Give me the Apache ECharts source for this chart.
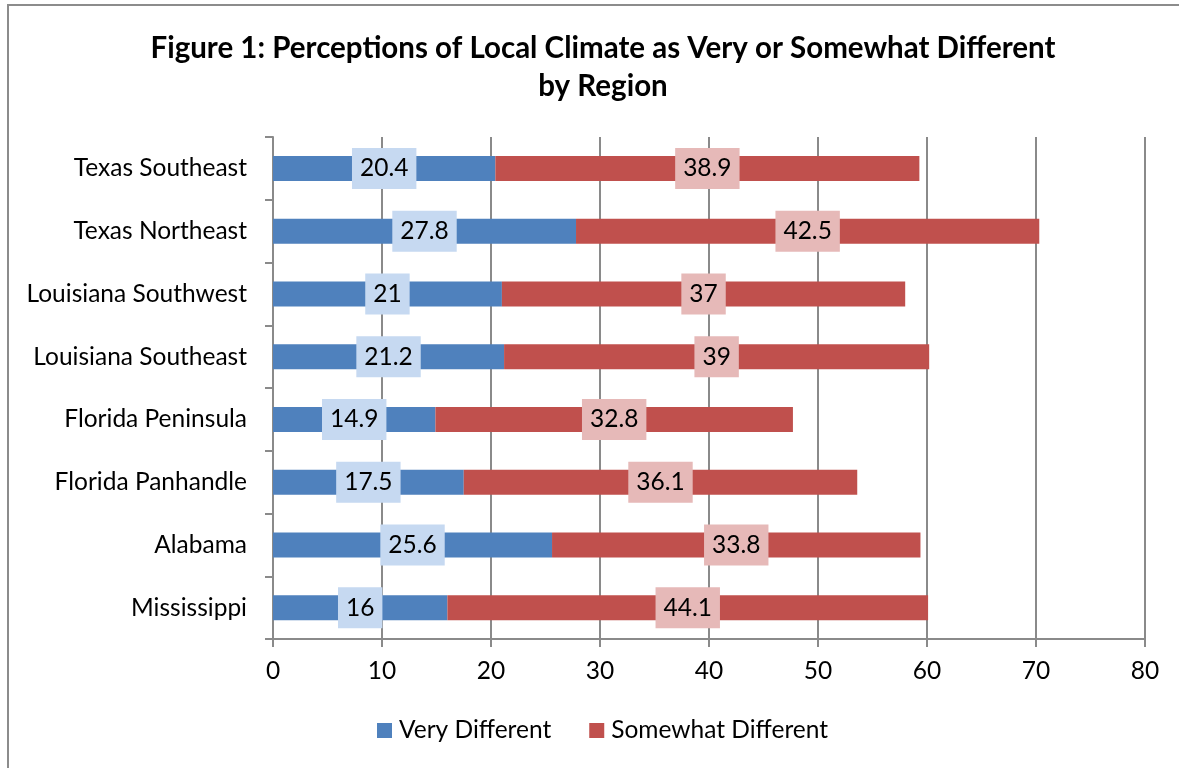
<!DOCTYPE html>
<html><head><meta charset="utf-8">
<script src="https://cdn.jsdelivr.net/npm/echarts@6/dist/echarts.min.js"></script>
<style>html,body{margin:0;padding:0;background:#fff;}#c{width:1179px;height:768px;}</style>
</head><body><div id="c"></div>
<script>
const categories = ["Texas Southeast","Texas Northeast","Louisiana Southwest","Louisiana Southeast","Florida Peninsula","Florida Panhandle","Alabama","Mississippi"];
const veryDifferent = [20.4, 27.8, 21, 21.2, 14.9, 17.5, 25.6, 16];
const somewhatDifferent = [38.9, 42.5, 37, 39, 32.8, 36.1, 33.8, 44.1];
const xTicks = [0,10,20,30,40,50,60,70,80];

const FONT = "Lato";
const FS = 24.5;
const chart = echarts.init(document.getElementById('c'));
const axisGray = '#8a8a8a';
chart.setOption({
  animation:false,
  textStyle:{fontFamily:FONT},
  graphic:[{type:'rect',shape:{x:8,y:5,width:1180,height:775},style:{fill:'none',stroke:'#8c8c8c',lineWidth:2},silent:true}],
  title:{text:"Figure 1: Perceptions of Local Climate as Very or Somewhat Different\nby Region",left:598,textAlign:'center',top:24,
    textStyle:{fontFamily:FONT,fontWeight:'bold',fontSize:29.5,color:'#000',lineHeight:38}},
  legend:{bottom:20,left:372,itemWidth:15,itemHeight:15,itemGap:38,icon:'rect',
    textStyle:{fontFamily:FONT,fontSize:FS,color:'#000',padding:[0,0,0,2]},data:['Very Different','Somewhat Different']},
  grid:{left:273,right:34,top:137,bottom:129,containLabel:false},
  xAxis:{type:'value',min:0,max:80,interval:10,
    axisLine:{show:true,lineStyle:{color:axisGray,width:2}},
    axisTick:{show:true,length:8,lineStyle:{color:axisGray,width:2}},
    splitLine:{show:true,lineStyle:{color:axisGray,width:2}},
    axisLabel:{fontFamily:FONT,fontSize:FS,color:'#000',margin:20,formatter:v=>xTicks.includes(v)?String(v):''}},
  yAxis:{type:'category',inverse:true,data:categories,
    axisLine:{show:true,lineStyle:{color:axisGray,width:2}},
    axisTick:{show:true,length:8,alignWithLabel:false,lineStyle:{color:axisGray,width:2}},
    axisLabel:{fontFamily:FONT,fontSize:FS,color:'#000',margin:26}},
  series:[
    {name:'Very Different',type:'bar',stack:'a',barWidth:25,data:veryDifferent,itemStyle:{color:'#4f81bd'},
     label:{show:true,position:'inside',fontFamily:FONT,fontSize:FS,lineHeight:26,color:'#000',backgroundColor:'#c6d9f1',padding:[8,8,7,8]}},
    {name:'Somewhat Different',type:'bar',stack:'a',barWidth:25,data:somewhatDifferent,itemStyle:{color:'#c0504d'},
     label:{show:true,position:'inside',fontFamily:FONT,fontSize:FS,lineHeight:26,color:'#000',backgroundColor:'#e6b9b8',padding:[8,8,7,8]}}
  ]
});
</script></body></html>
